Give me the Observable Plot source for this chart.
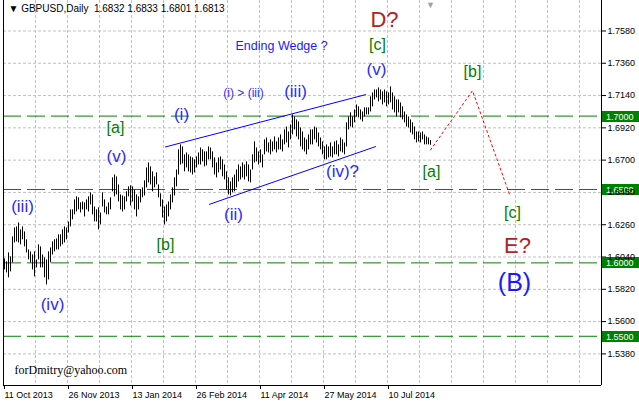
<!DOCTYPE html>
<html>
<head>
<meta charset="utf-8">
<script src="https://cdn.jsdelivr.net/npm/d3@7"></script>
<script src="https://cdn.jsdelivr.net/npm/@observablehq/plot@0.6"></script>
<style>
  html, body { margin: 0; padding: 0; background: #fff; }
</style>
</head>
<body>
<div id="chart"></div>
<script>
// ---- data ----
const highs = [
1.6027,1.6007,1.6068,1.6041,1.6177,1.6238,1.6245,1.6272,1.6225,1.6245,
1.6211,1.6157,1.6088,1.6075,1.6054,1.6075,1.6020,1.6123,1.6109,1.6054,
1.6034,1.6020,1.6075,1.6102,1.6143,1.6157,1.6163,1.6191,1.6191,1.6225,
1.6245,1.6238,1.6279,1.6361,1.6361,1.6429,1.6450,1.6443,1.6409,1.6415,
1.6409,1.6429,1.6450,1.6477,1.6463,1.6381,1.6361,1.6375,1.6340,1.6477,
1.6429,1.6381,1.6409,1.6443,1.6579,1.6599,1.6586,1.6531,1.6463,1.6456,
1.6450,1.6484,1.6518,1.6525,1.6518,1.6497,1.6463,1.6450,1.6497,1.6511,
1.6559,1.6647,1.6681,1.6654,1.6620,1.6586,1.6613,1.6531,1.6470,1.6429,
1.6381,1.6395,1.6415,1.6463,1.6511,1.6579,1.6633,1.6770,1.6804,1.6790,
1.6736,1.6749,1.6736,1.6722,1.6715,1.6702,1.6722,1.6749,1.6783,1.6770,
1.6756,1.6756,1.6790,1.6783,1.6756,1.6715,1.6681,1.6715,1.6722,1.6702,
1.6667,1.6620,1.6579,1.6552,1.6579,1.6599,1.6633,1.6667,1.6654,1.6681,
1.6667,1.6688,1.6667,1.6633,1.6736,1.6824,1.6783,1.6756,1.6770,1.6736,
1.6838,1.6851,1.6817,1.6838,1.6824,1.6858,1.6824,1.6851,1.6872,1.6838,
1.6906,1.6926,1.6892,1.6940,1.7008,1.6994,1.6974,1.6960,1.6919,1.6892,
1.6851,1.6838,1.6872,1.6906,1.6906,1.6926,1.6919,1.6885,1.6851,1.6824,
1.6790,1.6804,1.6790,1.6817,1.6790,1.6824,1.6831,1.6804,1.6851,1.6838,
1.6817,1.6954,1.6994,1.7022,1.6994,1.7042,1.7076,1.7063,1.7042,1.7028,
1.7056,1.7056,1.7056,1.7131,1.7158,1.7178,1.7178,1.7192,1.7178,1.7165,
1.7178,1.7165,1.7158,1.7199,1.7158,1.7131,1.7110,1.7110,1.7090,1.7063,
1.7028,1.7008,1.6994,1.6974,1.6954,1.6926,1.6892,1.6892,1.6885,1.6892,
1.6872,1.6858,1.6851,1.6833];
const lows = [
1.5952,1.5932,1.5898,1.5939,1.6000,1.6136,1.6143,1.6136,1.6123,1.6157,
1.6109,1.6068,1.6020,1.6000,1.5952,1.5905,1.5966,1.6020,1.5966,1.5966,
1.5898,1.5850,1.5884,1.6000,1.6054,1.6075,1.6088,1.6088,1.6109,1.6123,
1.6136,1.6157,1.6204,1.6245,1.6293,1.6327,1.6347,1.6361,1.6340,1.6361,
1.6313,1.6361,1.6347,1.6395,1.6327,1.6279,1.6279,1.6225,1.6259,1.6381,
1.6340,1.6327,1.6327,1.6361,1.6484,1.6450,1.6463,1.6415,1.6361,1.6347,
1.6361,1.6415,1.6450,1.6388,1.6415,1.6361,1.6313,1.6361,1.6409,1.6443,
1.6456,1.6511,1.6545,1.6531,1.6484,1.6511,1.6531,1.6443,1.6381,1.6306,
1.6259,1.6279,1.6313,1.6361,1.6409,1.6456,1.6518,1.6599,1.6667,1.6674,
1.6620,1.6647,1.6620,1.6613,1.6599,1.6613,1.6647,1.6667,1.6667,1.6688,
1.6654,1.6661,1.6702,1.6702,1.6647,1.6599,1.6579,1.6613,1.6633,1.6586,
1.6565,1.6497,1.6463,1.6456,1.6477,1.6484,1.6511,1.6552,1.6565,1.6579,
1.6565,1.6586,1.6552,1.6545,1.6633,1.6681,1.6688,1.6667,1.6681,1.6647,
1.6736,1.6756,1.6749,1.6736,1.6756,1.6770,1.6749,1.6770,1.6770,1.6756,
1.6804,1.6817,1.6783,1.6838,1.6872,1.6906,1.6858,1.6838,1.6790,1.6770,
1.6756,1.6736,1.6770,1.6804,1.6804,1.6838,1.6817,1.6790,1.6770,1.6736,
1.6702,1.6702,1.6715,1.6722,1.6715,1.6736,1.6736,1.6722,1.6756,1.6749,
1.6736,1.6790,1.6906,1.6926,1.6919,1.6954,1.6994,1.6988,1.6974,1.6960,
1.6994,1.7008,1.7008,1.7028,1.7063,1.7110,1.7124,1.7097,1.7110,1.7076,
1.7090,1.7063,1.7076,1.7090,1.7042,1.7022,1.6994,1.7022,1.6988,1.6974,
1.6954,1.6926,1.6919,1.6885,1.6872,1.6838,1.6817,1.6824,1.6817,1.6838,
1.6804,1.6804,1.6804,1.6801];

const dateTickBars = [0, 32, 64, 96, 128, 160, 192];
const dateTickLabels = ["11 Oct 2013", "26 Nov 2013", "13 Jan 2014", "26 Feb 2014", "11 Apr 2014", "27 May 2014", "10 Jul 2014"];
const priceTicks = [1.5380, 1.5600, 1.5820, 1.6040, 1.6260, 1.6480, 1.6700, 1.6920, 1.7140, 1.7360, 1.7580];
const levels = [1.7000, 1.6500, 1.6000, 1.5500];

const wedgeUpper = [{x: 81, y: 1.6790}, {x: 181, y: 1.7146}];
const wedgeLower = [{x: 103, y: 1.6399}, {x: 186, y: 1.6792}];
const projection = [{x: 213.5, y: 1.6769}, {x: 234.5, y: 1.7173}, {x: 253, y: 1.6467}];

const waveLabels = [
  {x: 146,   y: 1.7164, text: "(iii)", kind: "blue"},
  {x: 89,    y: 1.7008, text: "(i)",   kind: "blue"},
  {x: 56.5,  y: 1.6722, text: "(v)",   kind: "blue"},
  {x: 9.5,   y: 1.6381, text: "(iii)", kind: "blue"},
  {x: 24.5,  y: 1.5713, text: "(iv)",  kind: "blue"},
  {x: 115,   y: 1.6326, text: "(ii)",  kind: "blue"},
  {x: 169.5, y: 1.6619, text: "(iv)?", kind: "blue"},
  {x: 186.5, y: 1.7314, text: "(v)",   kind: "blue"},
  {x: 56,    y: 1.6919, text: "[a]",   kind: "green"},
  {x: 81,    y: 1.6122, text: "[b]",   kind: "green"},
  {x: 214,   y: 1.6619, text: "[a]",   kind: "green"},
  {x: 187,   y: 1.7484, text: "[c]",   kind: "green"},
  {x: 234.5, y: 1.7301, text: "[b]",   kind: "green"},
  {x: 254.5, y: 1.6340, text: "[c]",   kind: "green"}
];
const bigLabels = [
  {x: 190.5, y: 1.7655, text: "D?",  color: "#b22222", size: 22},
  {x: 257,   y: 1.6115, text: "E?",  color: "#b22222", size: 22},
  {x: 255.5, y: 1.5863, text: "(B)", color: "#1a1aff", size: 25}
];
const titleText = "\u25BC GBPUSD,Daily  1.6832 1.6833 1.6801 1.6813";

// ---- build ----
const bars = highs.map((h, i) => ({i, high: h, low: lows[i]}));
const gridBars = d3.range(16, 299, 16);
const yBottom = 1.51646, yTop = 1.77876;

const chart = Plot.plot({
  width: 639,
  height: 402,
  marginLeft: 3,
  marginRight: 38,
  marginTop: 0,
  marginBottom: 17,
  x: {domain: [0, 299], axis: null},
  y: {domain: [yBottom, yTop], axis: null},
  style: {fontFamily: "'Liberation Sans', Arial, sans-serif", fontSize: "9px", background: "#fff", color: "#000"},
  marks: [
    Plot.ruleX(gridBars, {x: d => d, stroke: "#c0c0c0", strokeDasharray: "3,2"}),
    Plot.ruleY(priceTicks, {y: d => d, stroke: "#c0c0c0", strokeDasharray: "3,2"}),
    Plot.ruleY(levels, {y: d => d, stroke: "#008000", strokeDasharray: "18,6"}),
    Plot.line(wedgeUpper, {x: "x", y: "y", stroke: "#0000ff", strokeWidth: 1}),
    Plot.line(wedgeLower, {x: "x", y: "y", stroke: "#0000ff", strokeWidth: 1}),
    Plot.ruleX(bars, {x: d => d.i + 0.5, y1: "low", y2: "high", stroke: "#000", strokeWidth: 1}),
    Plot.line(projection, {x: "x", y: "y", stroke: "#ff0000", strokeDasharray: "2,3", strokeWidth: 1}),
    Plot.ruleX([0, 299], {x: d => d, stroke: "#000"}),
    Plot.ruleY([yBottom], {y: d => d, stroke: "#000"}),
    Plot.axisY(priceTicks, {anchor: "right", label: null, tickFormat: d => d.toFixed(4), tickSize: 4, tickPadding: 2, fontSize: 9}),
    Plot.axisX(dateTickBars, {anchor: "bottom", label: null, tickFormat: d => dateTickLabels[dateTickBars.indexOf(d)], tickSize: 4, tickPadding: 2, textAnchor: "start", dx: 1, fontSize: 9}),
    Plot.text([titleText], {frameAnchor: "top-left", dx: 5, dy: 4, text: d => d, fill: "#000", fontSize: 10, lineAnchor: "top", textAnchor: "start"}),
    Plot.text(["\u25BC"], {x: () => 213.5, frameAnchor: "top", dy: 1, text: d => d, fill: "#a0a0a0", fontSize: 9, lineAnchor: "top"}),
    Plot.text(["forDmitry@yahoo.com"], {frameAnchor: "bottom-left", dx: 11, dy: -15, text: d => d, fill: "#000", fontSize: 12, fontFamily: "'Liberation Serif', serif", textAnchor: "start", lineAnchor: "middle"}),
    Plot.text(["Ending Wedge ?"], {x: () => 116, y: () => 1.7478, text: d => d, fill: "#1a1aff", fontSize: 12.5, textAnchor: "start"}),
    Plot.text(["(i) > (iii)"], {x: () => 120, y: () => 1.7158, text: d => d, fill: "#3030ff", fontSize: 12}),
    Plot.text(waveLabels.filter(d => d.kind === "blue"), {x: "x", y: "y", text: "text", fill: "#2a2aff", fontSize: 17}),
    Plot.text(waveLabels.filter(d => d.kind === "green"), {x: "x", y: "y", text: "text", fill: "#008000", fontSize: 16}),
    Plot.text(bigLabels.filter(d => d.size === 22), {x: "x", y: "y", text: "text", fill: "color", fontSize: 22}),
    Plot.text(bigLabels.filter(d => d.size === 25), {x: "x", y: "y", text: "text", fill: "color", fontSize: 25})
  ]
});

// highlighted level price boxes on the right scale
const ys = chart.scale("y");
const svg = d3.select(chart);
levels.forEach(v => {
  const py = Math.round(ys.apply(v));
  svg.append("rect").attr("x", 602).attr("y", py - 5).attr("width", 37).attr("height", 11).attr("fill", "#008000");
  svg.append("text").attr("x", 606).attr("y", py + 0.5).attr("dy", "0.35em").attr("fill", "#fff")
    .attr("text-anchor", "start").attr("font-size", 9)
    .attr("font-family", "'Liberation Sans', Arial, sans-serif").text(v.toFixed(4));
});
// price scale labels stay on top, as in the terminal
svg.selectAll('g[aria-label="y-axis tick label"]').raise();

document.getElementById("chart").appendChild(chart);
</script>
</body>
</html>
